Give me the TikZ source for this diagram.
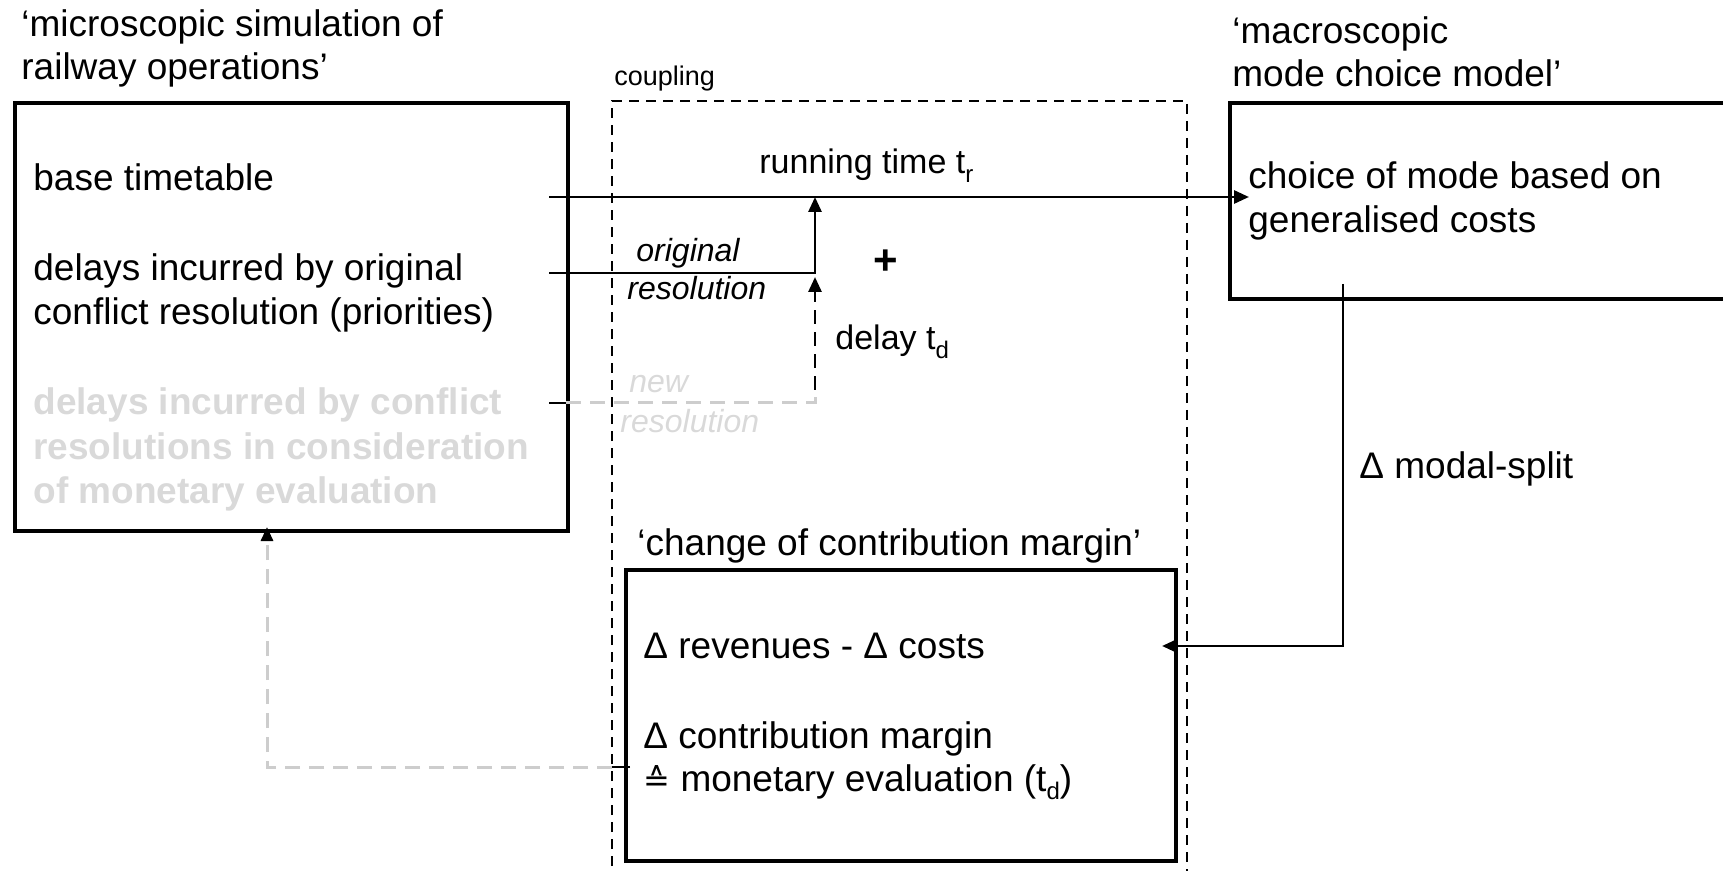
\documentclass[tikz,border=0pt]{standalone}
\usepackage{fontspec}
\setmainfont{Liberation Sans}
\newfontfamily\dejavu{DejaVu Sans}
\usetikzlibrary{arrows.meta}
\definecolor{lightg}{RGB}{217,217,217}
\definecolor{lineg}{RGB}{205,205,205}
\newcommand{\sbs}[1]{\raisebox{-0.45ex}{\fontsize{12}{12}\selectfont #1}}
\begin{document}
\begin{tikzpicture}[x=0.5pt,y=-0.5pt,
  txt/.style={anchor=base west,inner sep=0pt,font=\fontsize{18.5}{22}\selectfont},
  lbl/.style={anchor=base west,inner sep=0pt,font=\fontsize{17}{20}\selectfont},
  ital/.style={anchor=base west,inner sep=0pt,font=\fontsize{16}{19}\selectfont\itshape},
  gital/.style={ital,text=lightg},
  gtxt/.style={anchor=base west,inner sep=0pt,text=lightg,font=\fontsize{18.5}{22}\selectfont\bfseries},
  box/.style={draw,line width=2pt,inner sep=0pt,anchor=north west},
  conn/.style={line width=1.4pt},
  tip/.style={-{Triangle[length=7.5pt,width=6.5pt]}},
  blackdash/.style={conn,dash pattern=on 7pt off 4pt},
  greydash/.style={line width=1.5pt,draw=lineg,dash pattern=on 7.5pt off 4.5pt},
  coupl/.style={line width=1pt,dash pattern=on 5pt off 3.5pt}
]
\clip (0,0) rectangle (1723,871);
% boxes
\node[box,minimum width=276.5pt,minimum height=214pt] (micro) at (13,101) {};
\node[box,minimum width=270pt,minimum height=98pt] (macro) at (1228,101) {};
\node[box,minimum width=275pt,minimum height=145.5pt] (cm) at (624,568) {};
% coupling region
\draw[coupl] (612,900) -- (612,101) -- (1187,101) -- (1187,900);
\node[anchor=base west,inner sep=0pt,font=\fontsize{13.5}{16}\selectfont] (coup) at (614,86) {coupling};
% titles
\node[txt] (mt1) at (21,37) {‘microscopic simulation of};
\node[txt] (mt2) at (21,80) {railway operations’};
\node[txt] (ma1) at (1232,44) {‘macroscopic};
\node[txt] (ma2) at (1232,87) {mode choice model’};
\node[txt] (ct) at (637,555) {‘change of contribution margin’};
% left box text
\node[txt] (b1) at (33,191) {base timetable};
\node[txt] (b2) at (33,281) {delays incurred by original};
\node[txt] (b3) at (33,325) {conflict resolution (priorities)};
\node[gtxt] (g1) at (33,415) {delays incurred by conflict};
\node[gtxt] (g2) at (33,459) {resolutions in consideration};
\node[gtxt] (g3) at (33,503) {of monetary evaluation};
% right box text
\node[txt] (c1) at (1248,189) {choice of mode based on};
\node[txt] (c2) at (1248,233) {generalised costs};
% bottom box text
\node[txt] (r1) at (643,658) {Δ revenues - Δ costs};
\node[txt] (r2) at (643,748) {Δ contribution margin};
\node[txt] (r3) at (643,791) {{\dejavu\fontsize{16}{16}\selectfont ≙} monetary evaluation (t\sbs{d})};
% labels
\node[lbl] (rt) at (759,174) {running time t\sbs{r}};
\node[ital] (or1) at (636,262) {original};
\node[ital] (or2) at (627,300) {resolution};
\node[gital] (nr1) at (629,393) {new};
\node[gital] (nr2) at (620,432) {resolution};
\node[anchor=center,inner sep=0pt,font=\fontsize{21}{21}\selectfont\bfseries] (plus) at (886,262) {+};
\node[lbl] (dl) at (835,350) {delay t\sbs{d}};
\node[txt] (ms) at (1359,478) {Δ modal-split};
% connector points
\coordinate (pbt) at (549,197);
\coordinate (pin) at (1249,197);
\coordinate (por) at (549,273);
\coordinate (jor) at (815,273);
\coordinate (pnr) at (549,403);
\coordinate (enr) at (566,403);
\coordinate (jnr) at (815,403);
\coordinate (knr) at (815,390);
\coordinate (tnr) at (815,277);
\coordinate (pms) at (1343,284);
\coordinate (kms) at (1343,646);
\coordinate (tms) at (1162,646);
\coordinate (pfb) at (630,767);
\coordinate (efb) at (612,767);
\coordinate (kfb) at (267,767);
\coordinate (tfb) at (267,527);
% connectors
\draw[conn,tip] (pbt) -- (pin);
\draw[conn,tip] (por) -- (jor) -- (jor |- pbt);
\draw[conn] (pnr) -- (enr);
\draw[greydash] (enr) -- (jnr) -- (knr);
\draw[blackdash,tip] (knr) -- (tnr);
\draw[conn,tip] (pms) -- (kms) -- (tms);
\draw[conn] (pfb) -- (efb);
\draw[greydash,-{Triangle[length=7pt,width=6pt,black]}] (efb) -- (kfb) -- (tfb);
\end{tikzpicture}
\end{document}
